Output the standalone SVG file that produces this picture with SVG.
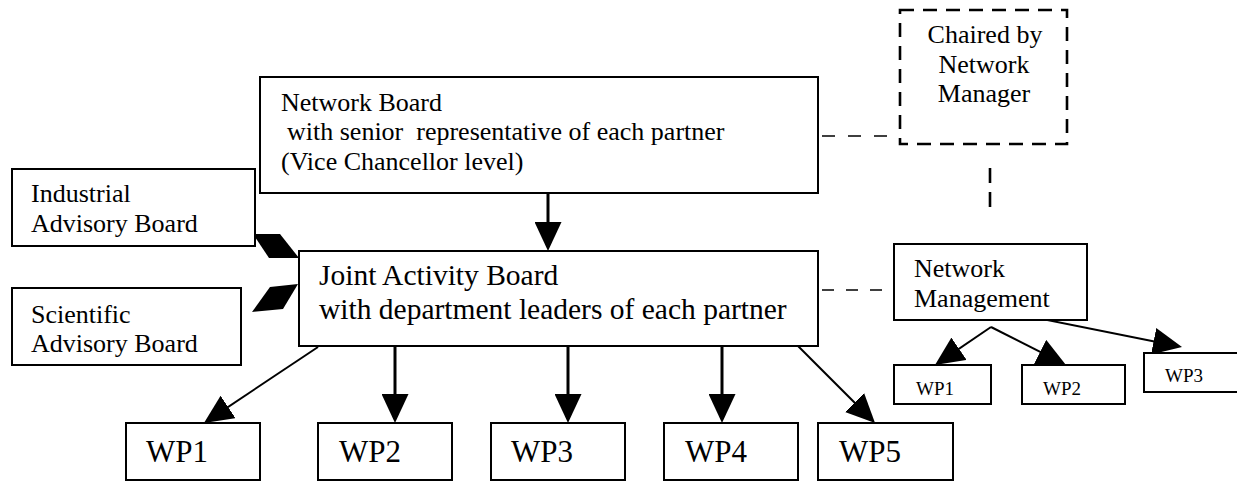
<svg xmlns="http://www.w3.org/2000/svg" width="1237" height="482" viewBox="0 0 1237 482">
  <style>
    .box { fill: #fff; stroke: #000; stroke-width: 2; }
    .dbox { fill: none; stroke: #000; stroke-width: 2.6; stroke-dasharray: 14 9; }
    .t { font-family: "Liberation Serif", "Times New Roman", serif; fill: #000; white-space: pre; }
    .s { font-size: 26px; }
    .m { font-size: 29.5px; }
    .l { font-size: 31px; }
    .xs { font-size: 19px; }
    .c { text-anchor: middle; }
    .thick { stroke: #000; stroke-width: 3; fill: none; }
    .thin { stroke: #000; stroke-width: 2; fill: none; }
    .dash { stroke: #000; stroke-width: 1.5; fill: none; }
    .dash2 { stroke: #000; stroke-width: 2.6; fill: none; stroke-dasharray: 15 9; }
  </style>
  <defs>
    <marker id="arrow" markerUnits="userSpaceOnUse" markerWidth="29" markerHeight="27" viewBox="0 0 29 27" refX="25" refY="13.5" orient="auto">
      <path d="M0,0 L29,13.5 L0,27 z" fill="#000"/>
    </marker>
  </defs>

  <rect x="0" y="0" width="1237" height="482" fill="#fff"/>

  <!-- connectors -->
  <g id="connectors">
    <line class="dash" x1="822" y1="136" x2="900" y2="136" stroke-dasharray="13 13"/>
    <line class="dash2" x1="990" y1="168" x2="990" y2="207"/>
    <line class="dash" x1="822" y1="290" x2="894" y2="290" stroke-dasharray="12 12"/>

    <line class="thick" x1="548" y1="193" x2="548" y2="247" marker-end="url(#arrow)"/>
    <line class="thick" x1="395" y1="346" x2="395" y2="419" marker-end="url(#arrow)"/>
    <line class="thick" x1="568" y1="346" x2="568" y2="419" marker-end="url(#arrow)"/>
    <line class="thick" x1="722" y1="346" x2="722" y2="419" marker-end="url(#arrow)"/>
    <line class="thin" x1="318" y1="347" x2="207.3" y2="420.8" marker-end="url(#arrow)"/>
    <line class="thin" x1="798" y1="346" x2="872.2" y2="420.2" marker-end="url(#arrow)"/>

    <line class="thin" x1="991" y1="327" x2="938.3" y2="362.8" marker-end="url(#arrow)"/>
    <line class="thin" x1="991" y1="327" x2="1062.4" y2="363.2" marker-end="url(#arrow)"/>
    <line class="thin" x1="992" y1="309" x2="1178.1" y2="346.2" marker-end="url(#arrow)"/>

    <!-- advisory links into the joint board -->
    <polygon points="253,234 280,234 299,258 269,258" fill="#000"/>
    <polygon points="252,312 270,287 298,284 283,309" fill="#000"/>
  </g>

  <g id="network-board">
    <rect class="box" x="260" y="77" width="558" height="116"/>
    <text class="t s" x="281" y="111">Network Board</text>
    <text class="t s" x="287" y="140">with senior  representative of each partner</text>
    <text class="t s" x="281" y="170">(Vice Chancellor level)</text>
  </g>

  <g id="chair">
    <rect class="dbox" x="900" y="10" width="167" height="134"/>
    <text class="t s c" x="985" y="43">Chaired by</text>
    <text class="t s c" x="984" y="73">Network</text>
    <text class="t s c" x="984" y="102">Manager</text>
  </g>

  <g id="industrial-board">
    <rect class="box" x="12" y="169" width="243" height="77"/>
    <text class="t s" x="31" y="202">Industrial</text>
    <text class="t s" x="31" y="232">Advisory Board</text>
  </g>

  <g id="scientific-board">
    <rect class="box" x="12" y="288" width="229" height="77"/>
    <text class="t s" x="31" y="323">Scientific</text>
    <text class="t s" x="31" y="352">Advisory Board</text>
  </g>

  <g id="joint-board">
    <rect class="box" x="299" y="251" width="519" height="95"/>
    <text class="t m" x="319" y="285">Joint Activity Board</text>
    <text class="t m" x="319" y="319">with department leaders of each partner</text>
  </g>

  <g id="network-management">
    <rect class="box" x="894" y="244" width="193" height="76"/>
    <text class="t s" x="914" y="277">Network</text>
    <text class="t s" x="914" y="307">Management</text>
  </g>

  <g id="nm-wp1">
    <rect class="box" x="894" y="365" width="97" height="39"/>
    <text class="t xs" x="916" y="395">WP1</text>
  </g>
  <g id="nm-wp2">
    <rect class="box" x="1022" y="365" width="103" height="39"/>
    <text class="t xs" x="1043" y="395">WP2</text>
  </g>
  <g id="nm-wp3">
    <rect class="box" x="1144" y="353" width="110" height="39"/>
    <text class="t xs" x="1165" y="382">WP3</text>
  </g>

  <g id="wp1">
    <rect class="box" x="126" y="423" width="134" height="57"/>
    <text class="t l" x="146" y="462">WP1</text>
  </g>
  <g id="wp2">
    <rect class="box" x="318" y="423" width="134" height="57"/>
    <text class="t l" x="339" y="462">WP2</text>
  </g>
  <g id="wp3">
    <rect class="box" x="491" y="423" width="134" height="57"/>
    <text class="t l" x="511" y="462">WP3</text>
  </g>
  <g id="wp4">
    <rect class="box" x="664" y="423" width="134" height="57"/>
    <text class="t l" x="685" y="462">WP4</text>
  </g>
  <g id="wp5">
    <rect class="box" x="818" y="423" width="135" height="57"/>
    <text class="t l" x="839" y="462">WP5</text>
  </g>
</svg>
